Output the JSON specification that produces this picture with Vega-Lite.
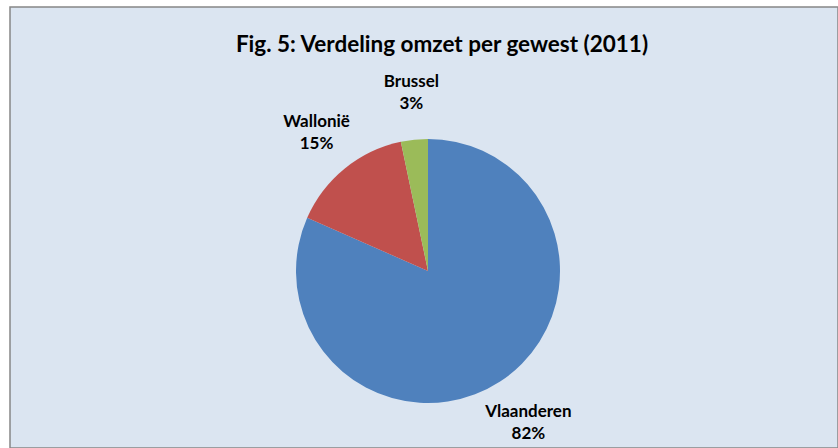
{
  "$schema": "https://vega.github.io/schema/vega-lite/v6.json",
  "width": 828,
  "height": 441,
  "autosize": {"type": "none"},
  "padding": {"left": 10, "top": 7, "right": 0, "bottom": 0},
  "background": "white",
  "view": {"fill": "#dbe5f1", "stroke": "#878787", "strokeWidth": 1.5},
  "title": {
    "text": "Fig. 5: Verdeling omzet per gewest (2011)",
    "orient": "top",
    "anchor": "middle",
    "offset": -46,
    "baseline": "alphabetic",
    "dx": 18,
    "dy": 21,
    "font": "Lato",
    "fontSize": 22.5,
    "fontWeight": "bold",
    "color": "#000000"
  },
  "data": {
    "values": [
      {"gewest": "Vlaanderen", "aandeel": 0.816, "rang": 1},
      {"gewest": "Wallonië", "aandeel": 0.151, "rang": 2},
      {"gewest": "Brussel", "aandeel": 0.033, "rang": 3}
    ]
  },
  "encoding": {
    "theta": {"field": "aandeel", "type": "quantitative", "stack": true},
    "order": {"field": "rang", "type": "quantitative"}
  },
  "layer": [
    {
      "mark": {"type": "arc", "radius": 132, "xOffset": 4, "yOffset": 43.5},
      "encoding": {
        "color": {
          "field": "gewest",
          "type": "nominal",
          "scale": {"domain": ["Vlaanderen", "Wallonië", "Brussel"], "range": ["#4f81bd", "#c0504d", "#9bbb59"]},
          "legend": null
        }
      }
    },
    {
      "mark": {"type": "text", "radius": 180, "xOffset": 6, "yOffset": 45, "dy": -11, "font": "Lato", "fontSize": 17, "fontWeight": "bold", "color": "#000000"},
      "encoding": {"text": {"field": "gewest", "type": "nominal"}}
    },
    {
      "mark": {"type": "text", "radius": 180, "xOffset": 6, "yOffset": 45, "dy": 11, "font": "Lato", "fontSize": 17, "fontWeight": "bold", "color": "#000000"},
      "encoding": {"text": {"field": "aandeel", "type": "quantitative", "format": ".0%"}}
    }
  ]
}
